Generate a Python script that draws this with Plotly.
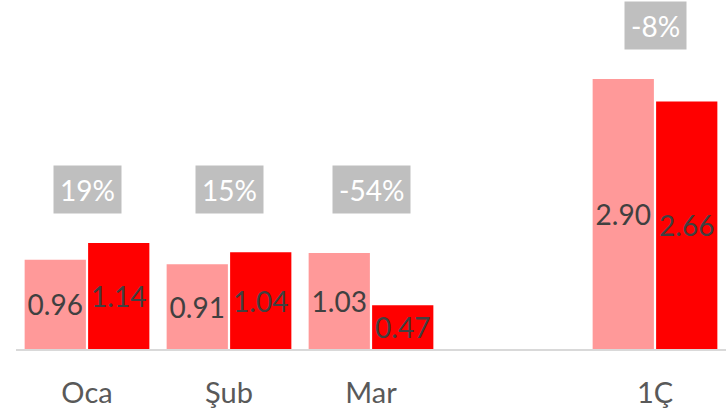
import plotly.graph_objects as go

categories = ["Oca", "Şub", "Mar", " ", "1Ç"]
prev_values = [0.96, 0.91, 1.03, None, 2.90]
curr_values = [1.14, 1.04, 0.47, None, 2.66]
prev_labels = ["0.96", "0.91", "1.03", "", "2.90"]
curr_labels = ["1.14", "1.04", "0.47", "", "2.66"]
pct_categories = ["Oca", "Şub", "Mar", "1Ç"]
pct_labels = ["19%", "15%", "-54%", "-8%"]

FONT = "Lato"
pct_y = [1.71, 1.71, 1.71, 3.48]

fig = go.Figure()
fig.add_trace(go.Bar(
    x=categories, y=prev_values, text=prev_labels,
    marker=dict(color="#FF9999", line=dict(width=0)),
    textposition="inside", insidetextanchor="middle", textangle=0,
    constraintext="none", cliponaxis=False,
    textfont=dict(family=FONT, size=28, color="#404040"),
    hoverinfo="skip",
))
fig.add_trace(go.Bar(
    x=categories, y=curr_values, text=curr_labels,
    marker=dict(color="#FF0000", line=dict(width=0)),
    textposition="inside", insidetextanchor="middle", textangle=0,
    constraintext="none", cliponaxis=False,
    textfont=dict(family=FONT, size=28, color="#404040"),
    hoverinfo="skip",
))

for cat, lab, yy in zip(pct_categories, pct_labels, pct_y):
    fig.add_annotation(
        x=cat, y=yy, xref="x", yref="y", text=lab, showarrow=False,
        font=dict(family=FONT, size=28, color="#FFFFFF"),
        bgcolor="#BFBFBF", borderpad=6, height=35,
        xanchor="center", yanchor="middle",
    )

fig.update_layout(
    width=728, height=410,
    margin=dict(l=16, r=2, t=0, b=61, autoexpand=False),
    paper_bgcolor="white", plot_bgcolor="white",
    barmode="group", bargap=0.106, bargroupgap=0.035,
    showlegend=False,
    xaxis=dict(
        type="category", categoryorder="array", categoryarray=categories,
        showline=True, linecolor="#D9D9D9", linewidth=1.5,
        showgrid=False, ticks="", ticklabelstandoff=17, automargin=False,
        tickfont=dict(family=FONT, size=29, color="#595959"),
        range=[-0.5, 4.5], fixedrange=True,
    ),
    yaxis=dict(
        range=[0, 3.749], visible=False, showgrid=False, zeroline=False,
        fixedrange=True, automargin=False,
    ),
)

fig.write_html(
    "out.html",
    config={"displayModeBar": False},
    post_script="document.body.style.margin='0';document.body.style.overflow='hidden';",
)
